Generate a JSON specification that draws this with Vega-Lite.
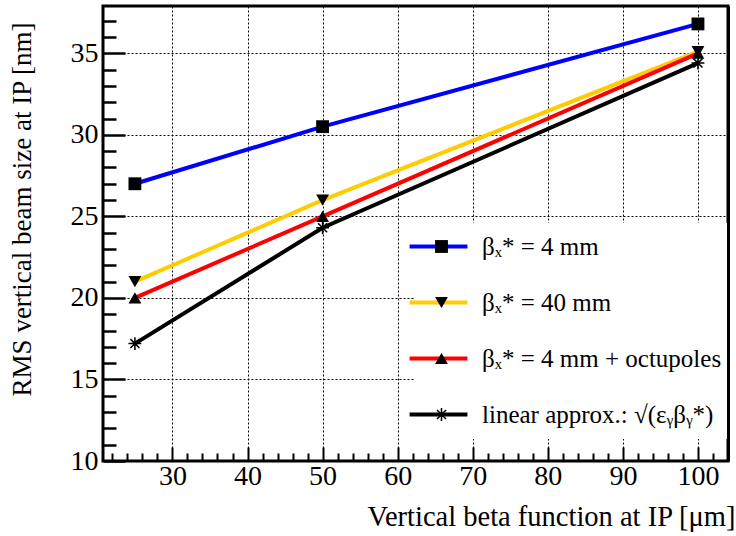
{
  "$schema": "https://vega.github.io/schema/vega-lite/v6.json",
  "width": 625,
  "height": 455,
  "autosize": {"type": "none"},
  "padding": {"left": 103, "top": 6, "right": 8, "bottom": 75},
  "background": "white",
  "config": {
    "font": "Liberation Serif",
    "view": {"stroke": "black", "strokeWidth": 3},
    "axis": {
      "labelFont": "Liberation Serif",
      "titleFont": "Liberation Serif",
      "labelColor": "black",
      "titleColor": "black",
      "titleFontWeight": "normal",
      "tickColor": "black",
      "domain": false
    },
    "legend": {"labelFont": "Liberation Serif", "labelColor": "black"}
  },
  "data": {
    "values": [
      {"beta": 25, "sigma": 27.0, "series": "βₓ* = 4 mm", "order": 1},
      {"beta": 50, "sigma": 30.5, "series": "βₓ* = 4 mm", "order": 1},
      {"beta": 100, "sigma": 36.8, "series": "βₓ* = 4 mm", "order": 1},
      {"beta": 25, "sigma": 21.0, "series": "βₓ* = 40 mm", "order": 2},
      {"beta": 50, "sigma": 26.0, "series": "βₓ* = 40 mm", "order": 2},
      {"beta": 100, "sigma": 35.1, "series": "βₓ* = 40 mm", "order": 2},
      {"beta": 25, "sigma": 20.0, "series": "βₓ* = 4 mm + octupoles", "order": 3},
      {"beta": 50, "sigma": 25.0, "series": "βₓ* = 4 mm + octupoles", "order": 3},
      {"beta": 100, "sigma": 35.0, "series": "βₓ* = 4 mm + octupoles", "order": 3},
      {"beta": 25, "sigma": 17.2, "series": "linear approx.: √(εᵧβᵧ*)", "order": 4},
      {"beta": 50, "sigma": 24.3, "series": "linear approx.: √(εᵧβᵧ*)", "order": 4},
      {"beta": 100, "sigma": 34.4, "series": "linear approx.: √(εᵧβᵧ*)", "order": 4}
    ]
  },
  "layer": [
    {
      "mark": {"type": "line", "strokeWidth": 4},
      "encoding": {
        "x": {
          "field": "beta",
          "type": "quantitative",
          "scale": {"domain": [20.75, 104], "nice": false, "zero": false},
          "axis": {
            "orient": "bottom",
            "values": [30, 40, 50, 60, 70, 80, 90, 100],
            "tickSize": -14,
            "tickWidth": 2,
            "labelFontSize": 28,
            "labelPadding": 15,
            "labelFlush": false,
            "grid": true,
            "gridColor": "black",
            "gridDash": [2, 2],
            "gridWidth": 1,
            "gridOpacity": 1,
            "title": "Vertical beta function at IP [μm]",
            "titleFontSize": 28.5,
            "titleAnchor": "end",
            "titleAlign": "right",
            "titleBaseline": "alphabetic",
            "titleX": 632,
            "titleY": 64
          }
        },
        "y": {
          "field": "sigma",
          "type": "quantitative",
          "scale": {"domain": [10, 37.9], "nice": false, "zero": false},
          "axis": {
            "orient": "left",
            "values": [10, 15, 20, 25, 30, 35],
            "tickSize": -22,
            "tickWidth": 2.5,
            "labelFontSize": 28,
            "labelPadding": 27,
            "labelFlush": false,
            "grid": true,
            "gridColor": "black",
            "gridDash": [2, 2],
            "gridWidth": 1,
            "gridOpacity": 1,
            "title": "RMS vertical beam size at IP [nm]",
            "titleFontSize": 27,
            "titleAngle": -90,
            "titleAnchor": "end",
            "titleAlign": "right",
            "titleBaseline": "middle",
            "titleX": -81,
            "titleY": 16
          }
        },
        "color": {
          "field": "series",
          "type": "nominal",
          "scale": {
            "domain": ["βₓ* = 4 mm", "βₓ* = 40 mm", "βₓ* = 4 mm + octupoles", "linear approx.: √(εᵧβᵧ*)"],
            "range": ["#0000ff", "#ffcc00", "#ff0000", "#000000"]
          },
          "legend": {
            "orient": "none",
            "legendX": 312,
            "legendY": 217,
            "title": null,
            "padding": 11,
            "fillColor": "white",
            "symbolType": "M-3,0H3",
            "symbolSize": 372,
            "symbolStrokeWidth": 4,
            "labelFontSize": 25,
            "labelOffset": 31,
            "labelLimit": 0,
            "rowPadding": 30
          }
        }
      }
    },
    {
      "mark": {"type": "point", "filled": true, "color": "black", "strokeWidth": 0, "size": 165, "opacity": 1},
      "encoding": {
        "x": {
          "field": "beta",
          "type": "quantitative",
          "scale": {"domain": [20.75, 104], "nice": false, "zero": false},
          "axis": {
            "orient": "bottom",
            "values": [22, 24, 26, 28, 32, 34, 36, 38, 42, 44, 46, 48, 52, 54, 56, 58, 62, 64, 66, 68, 72, 74, 76, 78, 82, 84, 86, 88, 92, 94, 96, 98, 102],
            "tickSize": -8,
            "tickWidth": 2,
            "labels": false,
            "grid": false,
            "title": null
          }
        },
        "y": {
          "field": "sigma",
          "type": "quantitative",
          "scale": {"domain": [10, 37.9], "nice": false, "zero": false},
          "axis": {
            "orient": "left",
            "values": [11, 12, 13, 14, 16, 17, 18, 19, 21, 22, 23, 24, 26, 27, 28, 29, 31, 32, 33, 34, 36, 37],
            "tickSize": -13,
            "tickWidth": 2.5,
            "labels": false,
            "grid": false,
            "title": null
          }
        },
        "shape": {
          "field": "series",
          "type": "nominal",
          "sort": {"field": "order", "op": "min"},
          "scale": {
            "range": [
              "square",
              "triangle-down",
              "triangle-up",
              "M-1,-0.12H1V0.12H-1ZM-0.12,-1H0.12V1H-0.12ZM-0.785,-0.615L-0.615,-0.785L0.785,0.615L0.615,0.785ZM-0.785,0.615L0.615,-0.785L0.785,-0.615L-0.615,0.785Z"
            ]
          },
          "legend": {
            "orient": "none",
            "legendX": 326,
            "legendY": 228,
            "title": null,
            "padding": 0,
            "symbolSize": 165,
            "symbolFillColor": "black",
            "symbolStrokeWidth": 0,
            "labelFontSize": 25,
            "labelExpr": "''",
            "labelLimit": 0,
            "rowPadding": 30,
            "encode": {
              "symbols": {
                "update": {
                  "fill": {"value": "black"},
                  "opacity": {"value": 1}
                }
              }
            }
          }
        }
      }
    },
    {
      "mark": {"type": "rule", "opacity": 0},
      "encoding": {
        "y": {
          "field": "sigma",
          "type": "quantitative",
          "scale": {"domain": [10, 37.9], "nice": false, "zero": false},
          "axis": {
            "orient": "right",
            "domain": true,
            "domainColor": "black",
            "domainWidth": 3,
            "ticks": false,
            "labels": false,
            "grid": false,
            "title": null,
            "zindex": 2
          }
        }
      }
    }
  ],
  "resolve": {"axis": {"x": "independent", "y": "independent"}}
}
